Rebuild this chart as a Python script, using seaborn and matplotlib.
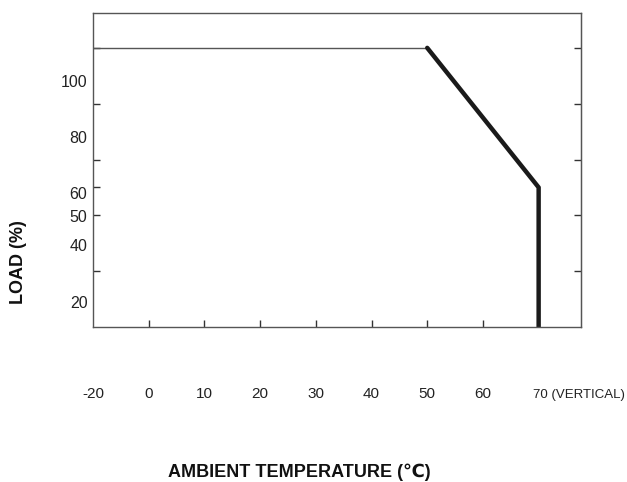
import pandas as pd
import seaborn as sns
import matplotlib.pyplot as plt

# derating curve, temperature (C) vs load (%)
flat_temp = [-10, 50]
flat_load = [100, 100]
derate_temp = [50, 70, 70]
derate_load = [100, 50, 0]

# tick marks
x_ticks = [0, 10, 20, 30, 40, 50, 60]
y_ticks_left = [20, 40, 50, 60, 80, 100]
y_ticks_right = [20, 40, 60, 80, 100]

# printed labels (placed as in the datasheet picture)
x_label_pos = [-10, 0, 10, 20, 30, 40, 50, 60, 69.0]
x_labels = ['-20', '0', '10', '20', '30', '40', '50', '60', '70 (VERTICAL)']
y_label_pos = [88.2, 68.1, 48.0, 39.8, 29.4, 9.0]
y_labels = ['100', '80', '60', '50', '40', '20']

sns.set_style('white')
plt.rcParams['font.family'] = ['Liberation Sans', 'DejaVu Sans']

fig = plt.figure(figsize=(6.27, 4.82), dpi=100)
ax = fig.add_axes([0.1483, 0.3216, 0.7783, 0.6515])

df_flat = pd.DataFrame({'temp': flat_temp, 'load': flat_load})
df_derate = pd.DataFrame({'temp': derate_temp, 'load': derate_load})
sns.lineplot(x='temp', y='load', data=df_flat, color='#555555', linewidth=1.0,
             sort=False, estimator=None, ax=ax)
sns.lineplot(x='temp', y='load', data=df_derate, color='#1a1a1a', linewidth=3.2,
             sort=False, estimator=None, ax=ax)

ax.set_xlim(-10, 77.6)
ax.set_ylim(0, 112.5)
ax.set_xlabel('')
ax.set_ylabel('')

for s in ax.spines.values():
    s.set_color('#555555')
    s.set_linewidth(1.0)

ax.xaxis.remove_overlapping_locs = False
ax.yaxis.remove_overlapping_locs = False

ax.set_xticks(x_ticks)
ax.set_yticks(y_ticks_left)
ax.tick_params(which='major', direction='in', length=5, width=1, color='#333333',
               labelbottom=False, labelleft=False, bottom=True, left=True)

ax.set_xticks(x_label_pos, labels=x_labels, minor=True)
ax.set_yticks(y_label_pos, labels=y_labels, minor=True)
ax.tick_params(axis='x', which='minor', length=0, pad=51, labelsize=11, labelcolor='#222222')
ax.tick_params(axis='y', which='minor', length=0, pad=4, labelsize=11.5, labelcolor='#222222')
for lab in ax.get_xticklabels(minor=True):
    lab.set_verticalalignment('baseline')
    if 'VERTICAL' in lab.get_text():
        lab.set_horizontalalignment('left')
        lab.set_fontsize(9.5)

sec = ax.secondary_yaxis('right')
sec.set_yticks(y_ticks_right)
sec.tick_params(direction='in', length=5, width=1, color='#333333', labelright=False)
sec.spines['right'].set_color('#555555')

fig.text(0.478, 0.021, 'AMBIENT TEMPERATURE (℃)', ha='center', va='center',
         fontsize=13, fontweight='bold', color='#111111')
fig.text(0.029, 0.456, 'LOAD (%)', ha='center', va='center', rotation=90,
         fontsize=13, fontweight='bold', color='#111111')

fig.savefig('out.png', dpi=100)
